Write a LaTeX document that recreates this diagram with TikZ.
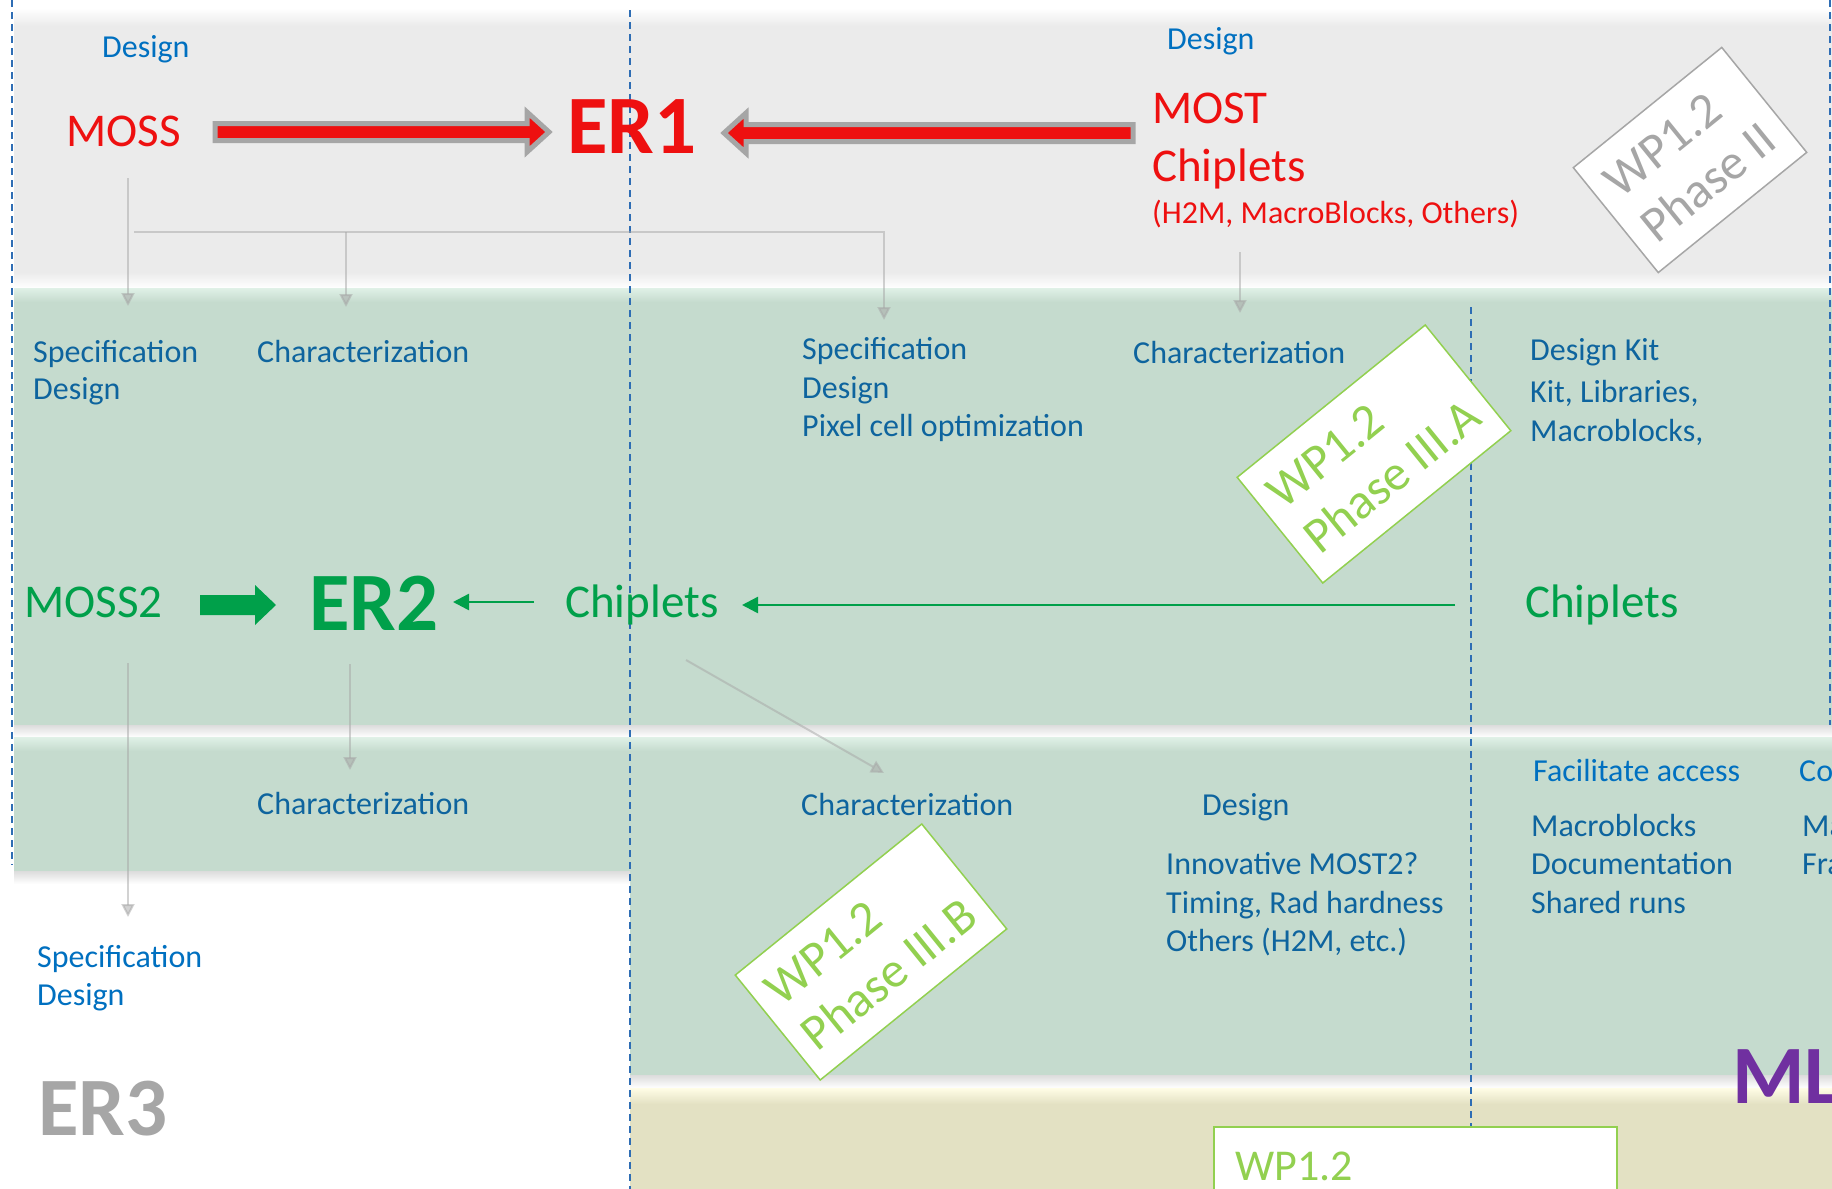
\documentclass[tikz,border=0pt]{standalone}
\usepackage{fontspec}
\setmainfont{Carlito}
\usetikzlibrary{arrows.meta,calc}
\definecolor{topgray}{HTML}{EBEBEB}
\definecolor{bandg}{HTML}{C5DBCE}
\definecolor{bandgl}{HTML}{E0F1E7}
\definecolor{bandy}{HTML}{E3E1C3}
\definecolor{bandyl}{HTML}{FFFDE6}
\definecolor{dblue}{HTML}{2E6DB4}
\definecolor{tblue}{HTML}{0070C0}
\definecolor{bblue}{HTML}{0E649E}
\definecolor{ered}{HTML}{EE1010}
\definecolor{egreen}{HTML}{00A04A}
\definecolor{lgreen}{HTML}{92D050}
\definecolor{egray}{HTML}{A6A6A6}
\definecolor{epurple}{HTML}{7030A0}
\definecolor{shadowg}{HTML}{DCDCDC}
\begin{document}
\begin{tikzpicture}[x=1pt,y=-1pt,
  tsm/.style={anchor=base west, inner sep=0pt, font=\fontsize{32}{38}\selectfont},
  blu/.style={tsm, text=tblue},
  bbl/.style={tsm, text=bblue},
  bigt/.style={anchor=base west, inner sep=0pt, font=\fontsize{47}{56}\selectfont},
  huget/.style={anchor=base west, inner sep=0pt, font=\fontsize{83}{99}\selectfont\bfseries},
  phbox/.style={rotate=39, fill=white, line width=1.5pt, align=left, inner sep=0pt,
    font=\fontsize{50}{58}\selectfont},
  dline/.style={draw=dblue, line width=1.8pt, dash pattern=on 7pt off 5pt},
  conn/.style={draw=egray, line width=2pt, opacity=0.5, -{Triangle[length=13pt,width=13pt]}},
  connplain/.style={draw=egray, line width=2pt, opacity=0.5},
  bigred/.style={draw=egray, line width=5pt, fill=ered, line join=miter},
  gthin/.style={draw=egreen, line width=2.5pt, -{Triangle[length=16pt,width=16pt]}}
]
\useasboundingbox (0,0) rectangle (1832,1189);
\clip (0,0) rectangle (1832,1189);
\fill[white] (0,0) rectangle (1832,1189);

% ---------- bands ----------
\shade[top color=white, bottom color=topgray] (14,8) rectangle (1832,26);
\fill[topgray] (14,26) rectangle (1832,272);
\shade[top color=topgray, bottom color=white] (14,272) rectangle (1832,288);
\shade[top color=bandgl, bottom color=bandg] (14,288) rectangle (1832,302);
\fill[bandg] (14,302) rectangle (1832,725);
\shade[top color=shadowg, bottom color=white] (14,725) rectangle (1832,737);
\shade[top color=bandgl, bottom color=bandg] (14,737) rectangle (1832,751);
\fill[bandg] (14,751) rectangle (630,871);
\fill[bandg] (630,751) rectangle (1832,1075);
\shade[top color=shadowg, bottom color=white] (14,871) rectangle (630,884);
\shade[top color=shadowg, bottom color=white] (630,1075) rectangle (1832,1088);
\shade[top color=bandyl, bottom color=bandy] (630,1088) rectangle (1832,1104);
\fill[bandy] (630,1104) rectangle (1832,1189);

% ---------- dashed separators ----------
\coordinate (dlT) at (12,0);      \coordinate (dlB) at (12,865);
\coordinate (dmT) at (630,10);    \coordinate (dmB) at (630,1189);
\coordinate (drT) at (1471,307);  \coordinate (drB) at (1471,1126);
\coordinate (dfT) at (1830,0);    \coordinate (dfB) at (1830,725);
\draw[dline] (dlT) -- (dlB);
\draw[dline] (dmT) -- (dmB);
\draw[dline] (drT) -- (drB);
\draw[dline] (dfT) -- (dfB);

% ---------- top band (ER1) ----------
\node[blu] (des1) at (102,57) {Design};
\node[bigt, text=ered] (moss) at (66,146) {MOSS};
\node[huget, text=ered] (er1) at (567,153) {ER1};
\node[blu] (des2) at (1167,49) {Design};
\node[bigt, text=ered] (most) at (1152,123) {MOST};
\node[bigt, text=ered] (chipA) at (1152,181) {Chiplets};
\node[tsm, text=ered] (h2m) at (1152,223) {(H2M, MacroBlocks, Others)};
\node[phbox, draw=egray, text=egray, minimum width=191pt, minimum height=135pt]
  (ph2) at (1690,160) {WP1.2\\Phase II};

\coordinate (a1s) at (215,132);
\coordinate (a1e) at (549,132);
\draw[bigred] ($(a1s)+(0,-8.5)$) -- ($(a1e)+(-22,-8.5)$) -- ($(a1e)+(-22,-20)$) -- (a1e)
  -- ($(a1e)+(-22,20)$) -- ($(a1e)+(-22,8.5)$) -- ($(a1s)+(0,8.5)$) -- cycle;
\coordinate (a2s) at (1133,133);
\coordinate (a2e) at (724,133);
\draw[bigred] ($(a2s)+(0,-8.5)$) -- ($(a2e)+(22,-8.5)$) -- ($(a2e)+(22,-20)$) -- (a2e)
  -- ($(a2e)+(22,20)$) -- ($(a2e)+(22,8.5)$) -- ($(a2s)+(0,8.5)$) -- cycle;

% ---------- band 2 (ER2) ----------
\node[bbl] (spec1) at (33,362) {Specification};
\node[bbl] (desg3) at (33,399) {Design};
\node[bbl] (char1) at (257,362) {Characterization};
\node[bbl] (spec2) at (802,359) {Specification};
\node[bbl] (desg4) at (802,398) {Design};
\node[bbl] (pixel) at (802,436) {Pixel cell optimization};
\node[bbl] (char2) at (1133,363) {Characterization};
\node[bbl] (dkit) at (1530,360) {Design Kit};
\node[bbl] (klib) at (1530,402) {Kit, Libraries,};
\node[bbl] (mblk) at (1530,441) {Macroblocks,};
\node[phbox, draw=lgreen, text=lgreen, minimum width=242pt, minimum height=136pt]
  (ph3a) at (1374,454) {WP1.2\\Phase III.A};

\node[bigt, text=egreen] (moss2) at (24,617) {MOSS2};
\node[huget, text=egreen] (er2) at (309,630) {ER2};
\node[bigt, text=egreen] (chipB) at (565,617) {Chiplets};
\node[bigt, text=egreen] (chipC) at (1525,617) {Chiplets};

\coordinate (g1s) at (200,605);
\coordinate (g1e) at (276,605);
\fill[egreen] ($(g1s)+(0,-10)$) -- ($(g1e)+(-21,-10)$) -- ($(g1e)+(-21,-20)$) -- (g1e)
  -- ($(g1e)+(-21,20)$) -- ($(g1e)+(-21,10)$) -- ($(g1s)+(0,10)$) -- cycle;
\coordinate (t1s) at (534,602);
\coordinate (t1e) at (453,602);
\draw[gthin] (t1s) -- (t1e);
\coordinate (t2s) at (1455,605);
\coordinate (t2e) at (742,605);
\draw[gthin] (t2s) -- (t2e);

% ---------- band 3 ----------
\node[bbl] (char3) at (257,814) {Characterization};
\node[bbl] (char4) at (801,815) {Characterization};
\node[bbl] (desg5) at (1202,815) {Design};
\node[bbl] (inno1) at (1166,874) {Innovative MOST2?};
\node[bbl] (inno2) at (1166,913) {Timing, Rad hardness};
\node[bbl] (inno3) at (1166,951) {Others (H2M, etc.)};
\node[blu] (facil) at (1533,781) {Facilitate access};
\node[bbl] (mac2) at (1531,836) {Macroblocks};
\node[bbl] (docu) at (1531,874) {Documentation};
\node[bbl] (shrd) at (1531,913) {Shared runs};
\node[blu] (co) at (1799,781) {Co};
\node[bbl] (ma) at (1802,836) {Ma};
\node[bbl] (fra) at (1802,874) {Fra};
\node[huget, text=epurple] (ml) at (1732,1103) {ML};
\node[phbox, draw=lgreen, text=lgreen, minimum width=240pt, minimum height=135pt]
  (ph3b) at (871,952) {WP1.2\\Phase III.B};

% ---------- white area (ER3) ----------
\node[blu] (spec3) at (37,967) {Specification};
\node[blu] (desg6) at (37,1005) {Design};
\node[huget, text=egray] (er3) at (38,1135) {ER3};

% ---------- band 4 ----------
\node[draw=lgreen, fill=white, line width=2pt, minimum width=403pt, minimum height=90pt,
  anchor=north west, inner sep=0pt] (wpbox) at (1213,1126) {};
\node[anchor=base west, inner sep=0pt, font=\fontsize{44}{52}\selectfont, text=lgreen]
  (wptxt) at (1235,1180) {WP1.2};

% ---------- gray connectors ----------
\coordinate (mossD) at (128,178);
\coordinate (spec1T) at (128,306);
\draw[conn] (mossD) -- (spec1T);
\coordinate (hbL) at (134,232);
\coordinate (hbM) at (346,232);
\coordinate (hbR) at (884,232);
\coordinate (char1T) at (346,307);
\coordinate (spec2T) at (884,320);
\draw[connplain] (hbL) -- (hbM);
\draw[conn] (hbM) -- (hbR) -- (spec2T);
\draw[conn] (hbM) -- (char1T);
\coordinate (mostD) at (1240,252);
\coordinate (char2T) at (1240,313);
\draw[conn] (mostD) -- (char2T);
\coordinate (moss2D) at (128,663);
\coordinate (spec3T) at (128,917);
\draw[conn] (moss2D) -- (spec3T);
\coordinate (er2D) at (350,664);
\coordinate (char3T) at (350,770);
\draw[conn] (er2D) -- (char3T);
\coordinate (chipBD) at (686,660);
\coordinate (char4T) at (884,773);
\draw[conn] (chipBD) -- (char4T);
\end{tikzpicture}
\end{document}
